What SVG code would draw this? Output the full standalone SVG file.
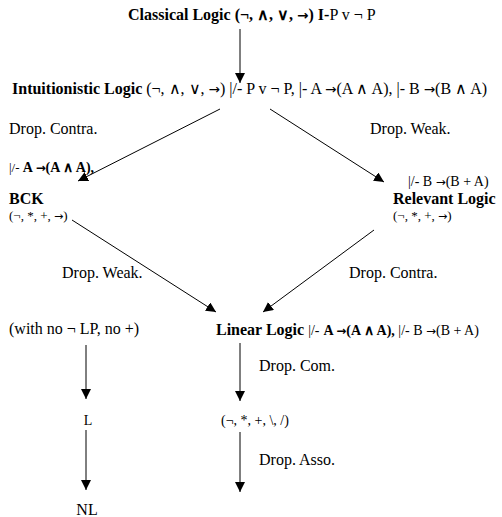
<svg xmlns="http://www.w3.org/2000/svg" width="502" height="517" viewBox="0 0 502 517">
<style>
text{font-family:"Liberation Serif","Times New Roman",serif;font-size:16px;fill:#000}
.b{font-weight:bold}
.s{font-size:13px}
.m{font-size:14px}
.t{font-size:14px}
.ar{font-family:"DejaVu Sans",sans-serif;font-size:0.85em}
.c{stroke:#000;stroke-width:1;fill:none;marker-end:url(#ah)}
</style>
<defs>
<marker id="ah" viewBox="0 0 10 10" refX="10" refY="5" markerWidth="10" markerHeight="10" markerUnits="userSpaceOnUse" orient="auto">
<path d="M0,0L10,5L0,10z" fill="#000"/>
</marker>
</defs>
<rect width="502" height="517" fill="#fff"/>
<g id="connectors">
<line class="c" x1="240" y1="29" x2="240" y2="83"/>
<line class="c" x1="220" y1="109" x2="78" y2="181"/>
<line class="c" x1="270" y1="109" x2="384" y2="182"/>
<line class="c" x1="72" y1="220" x2="216" y2="312"/>
<line class="c" x1="374" y1="230" x2="263" y2="312"/>
<line class="c" x1="86" y1="345" x2="86" y2="399"/>
<line class="c" x1="86" y1="430" x2="86" y2="490"/>
<line class="c" x1="240" y1="343" x2="240" y2="401"/>
<line class="c" x1="240" y1="432" x2="240" y2="492"/>
</g>
<g id="classical"><text x="128" y="20"><tspan class="b">Classical Logic  (¬, ∧, ∨, <tspan class="ar">→</tspan>)</tspan> <tspan class="b">I-</tspan>P v ¬ P</text></g>
<g id="intuitionistic"><text x="12" y="94" font-size="16.3"><tspan class="b">Intuitionistic Logic</tspan> (¬, ∧, ∨, <tspan class="ar">→</tspan>) |/- P v ¬ P, |- A <tspan class="ar">→</tspan>(A ∧ A), |- B <tspan class="ar">→</tspan>(B ∧ A)</text></g>
<g id="edge-labels">
<text x="9" y="134">Drop. Contra.</text>
<text x="370" y="134">Drop. Weak.</text>
<text x="62" y="278">Drop. Weak.</text>
<text x="349" y="278">Drop. Contra.</text>
<text x="259" y="371">Drop. Com.</text>
<text x="259" y="465">Drop. Asso.</text>
</g>
<g id="bck">
<text x="9" y="172" class="s">|/-  <tspan class="b m">A <tspan class="ar">→</tspan>(A ∧ A),</tspan></text>
<text x="9" y="204" class="b">BCK</text>
<text x="9" y="220" class="s">(¬, *, +, <tspan class="ar">→</tspan>)</text>
</g>
<g id="relevant">
<text x="408" y="186" class="t">|/- B <tspan class="ar">→</tspan>(B + A)</text>
<text x="393" y="204" class="b">Relevant Logic</text>
<text x="393" y="220" class="s">(¬, *, +, <tspan class="ar">→</tspan>)</text>
</g>
<g id="linear"><text x="216" y="335"><tspan class="b">Linear Logic</tspan> <tspan class="t">|/-</tspan> <tspan class="b m">A <tspan class="ar">→</tspan>(A ∧ A), </tspan><tspan class="t">|/- B <tspan class="ar">→</tspan>(B + A)</tspan></text></g>
<g id="noLP"><text x="9" y="334">(with no ¬ LP, no +)</text></g>
<g id="L"><text x="88" y="425" class="t" text-anchor="middle">L</text></g>
<g id="NL"><text x="87" y="515" text-anchor="middle">NL</text></g>
<g id="noncomm"><text x="221" y="425" class="t">(¬, *, +, \, /)</text></g>
</svg>
